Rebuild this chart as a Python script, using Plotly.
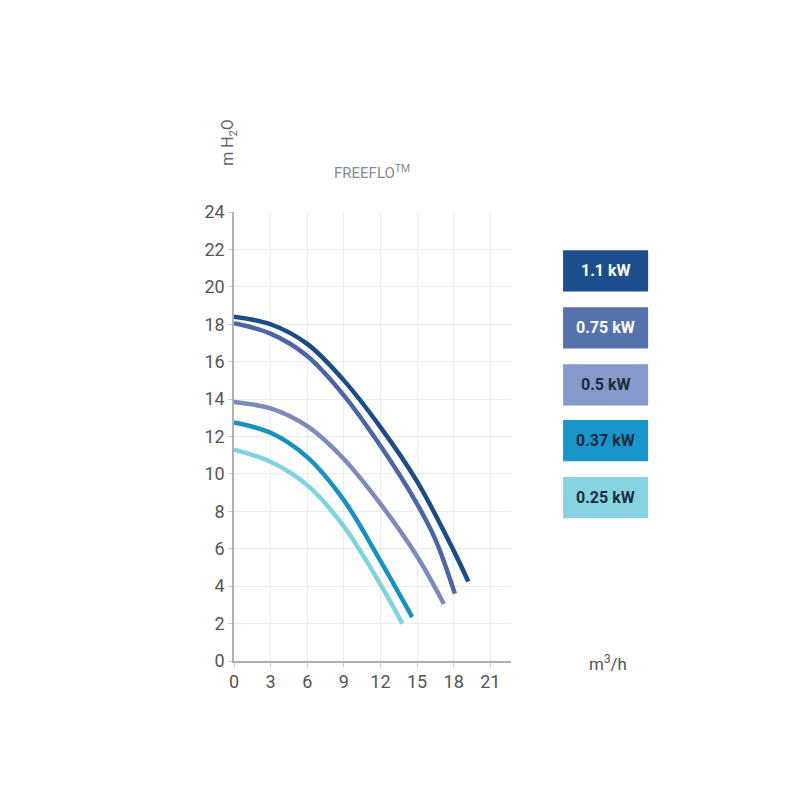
import plotly.graph_objects as go

# ---- data ----
series_names = ["1.1 kW", "0.75 kW", "0.5 kW", "0.37 kW", "0.25 kW"]
q_11 = [0, 3, 6, 9, 12, 15, 18, 19.2]
h_11 = [18.4, 18.0, 16.95, 15.0, 12.5, 9.6, 5.9, 4.25]
q_075 = [0, 3, 6, 9, 12, 15, 16.5, 18.1]
h_075 = [18.05, 17.5, 16.3, 14.2, 11.5, 8.4, 6.5, 3.6]
q_05 = [0, 3, 6, 9, 12, 15, 17.2]
h_05 = [13.85, 13.5, 12.55, 10.8, 8.4, 5.6, 3.05]
q_037 = [0, 3, 6, 9, 12, 14.6]
h_037 = [12.75, 12.2, 10.9, 8.6, 5.35, 2.35]
q_025 = [0, 3, 6, 9, 12, 13.8]
h_025 = [11.3, 10.65, 9.4, 7.2, 4.1, 2.0]
x_ticks = [0, 3, 6, 9, 12, 15, 18, 21]
y_ticks = [0, 2, 4, 6, 8, 10, 12, 14, 16, 18, 20, 22, 24]

line_colors = ["#1b4c86", "#4d66a3", "#7d8bbb", "#1890c2", "#80d3de"]
box_colors = ["#1d4f8e", "#5672ad", "#8699cb", "#1896c9", "#86d2e0"]
text_colors = ["#ffffff", "#ffffff", "#1c2a3e", "#1c2a3e", "#1c2a3e"]

series = [(q_11, h_11), (q_075, h_075), (q_05, h_05), (q_037, h_037), (q_025, h_025)]

FONT = "Roboto, sans-serif"

fig = go.Figure()
for (q, h), name, col in zip(series, series_names, line_colors):
    fig.add_trace(go.Scatter(x=q, y=h, mode="lines", name=name,
                             line=dict(color=col, width=4.5, shape="spline", smoothing=1.0),
                             showlegend=False, hoverinfo="skip"))

# custom legend boxes (paper coords)
box_x0, box_x1 = 1.188, 1.495
box_tops = [0.915, 0.788, 0.661, 0.537, 0.410]
box_h = 0.092
for i, name in enumerate(series_names):
    y1 = box_tops[i]
    y0 = y1 - box_h
    fig.add_shape(type="rect", xref="paper", yref="paper", x0=box_x0, x1=box_x1,
                  y0=y0, y1=y1, fillcolor=box_colors[i], line=dict(width=0), layer="below")
    fig.add_annotation(xref="paper", yref="paper", x=(box_x0 + box_x1) / 2, y=(y0 + y1) / 2,
                       xanchor="center", yanchor="middle",
                       text="<b>" + name + "</b>", showarrow=False,
                       font=dict(family=FONT, size=16, color=text_colors[i]))

fig.add_annotation(xref="paper", yref="paper", x=0.497, y=1.089, xanchor="center",
                   yanchor="middle", text="FREEFLO<sup>TM</sup>",
                   showarrow=False, font=dict(family=FONT, size=15, color="#8a8a8a"))
fig.add_annotation(xref="paper", yref="paper", x=-0.018, y=1.154, xanchor="center",
                   yanchor="middle", text="m H<sub>2</sub>O",
                   textangle=-90, showarrow=False,
                   font=dict(family=FONT, size=16, color="#666666"))
fig.add_annotation(xref="paper", yref="paper", x=1.35, y=-0.004, xanchor="center",
                   yanchor="middle", text="m<sup>3</sup>/h",
                   showarrow=False, font=dict(family=FONT, size=17, color="#555555"))

fig.update_layout(
    width=800, height=800,
    margin=dict(l=226, r=297, t=204, b=147),
    paper_bgcolor="white", plot_bgcolor="white",
    xaxis=dict(range=[0, 22.7], tickvals=x_ticks, showgrid=True, gridcolor="#ececec",
               gridwidth=1, zeroline=False, showline=True, linecolor="#b0b0b0", linewidth=1.5,
               ticks="outside", ticklen=4, tickcolor="#c8c8c8",
               tickfont=dict(family=FONT, size=18, color="#555555")),
    yaxis=dict(range=[0, 24], tickvals=y_ticks, showgrid=True, gridcolor="#ececec",
               gridwidth=1, zeroline=False, showline=True, linecolor="#b0b0b0", linewidth=1.5,
               ticks="outside", ticklen=4, tickcolor="#c8c8c8",
               tickfont=dict(family=FONT, size=18, color="#555555")),
)

fig.write_html("out.html")
